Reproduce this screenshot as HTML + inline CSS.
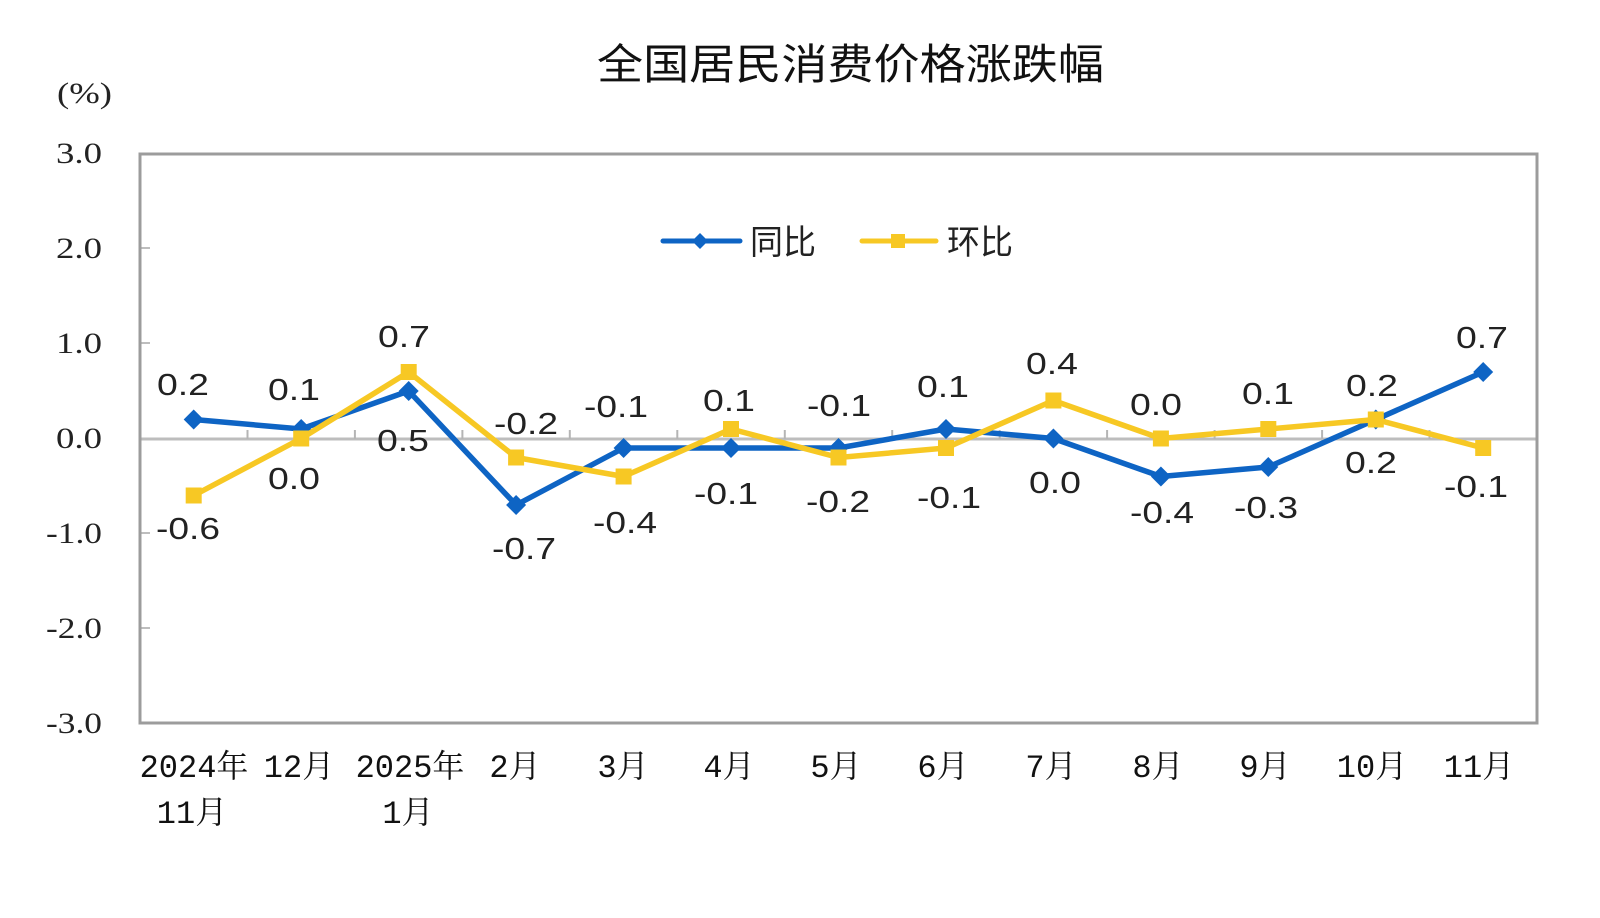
<!DOCTYPE html>
<html>
<head>
<meta charset="utf-8">
<style>
html,body{margin:0;padding:0;background:#fff;}
svg{display:block;}
</style>
</head>
<body>
<svg width="1600" height="918" viewBox="0 0 1600 918" xmlns="http://www.w3.org/2000/svg">
<rect width="1600" height="918" fill="#fff"/>

<!-- Title -->
<text x="597" y="79" font-family="'Noto Sans CJK SC','WenQuanYi Zen Hei',sans-serif" font-size="42" fill="#111" textLength="507" lengthAdjust="spacingAndGlyphs">全国居民消费价格涨跌幅</text>

<!-- (%) -->
<text x="57" y="103" font-family="'Liberation Serif',serif" font-size="30" fill="#222" textLength="55" lengthAdjust="spacingAndGlyphs">(%)</text>

<!-- Y tick labels -->
<g font-family="'Liberation Serif',serif" font-size="30" fill="#222" text-anchor="end">
<text x="102" y="163" textLength="46" lengthAdjust="spacingAndGlyphs">3.0</text>
<text x="102" y="258" textLength="46" lengthAdjust="spacingAndGlyphs">2.0</text>
<text x="102" y="353" textLength="46" lengthAdjust="spacingAndGlyphs">1.0</text>
<text x="102" y="448" textLength="46" lengthAdjust="spacingAndGlyphs">0.0</text>
<text x="102" y="543" textLength="56" lengthAdjust="spacingAndGlyphs">-1.0</text>
<text x="102" y="638" textLength="56" lengthAdjust="spacingAndGlyphs">-2.0</text>
<text x="102" y="733" textLength="56" lengthAdjust="spacingAndGlyphs">-3.0</text>
</g>

<!-- Y axis small ticks -->
<g stroke="#bdbdbd" stroke-width="2">
<line x1="140" y1="248" x2="150" y2="248"/>
<line x1="140" y1="343" x2="150" y2="343"/>
<line x1="140" y1="533" x2="150" y2="533"/>
<line x1="140" y1="628" x2="150" y2="628"/>
</g>

<!-- Zero line -->
<line x1="140" y1="439" x2="1537" y2="439" stroke="#bdbdbd" stroke-width="3"/>
<g stroke="#b5b5b5" stroke-width="2">
<line x1="247.5" y1="439" x2="247.5" y2="430"/>
<line x1="354.9" y1="439" x2="354.9" y2="430"/>
<line x1="462.4" y1="439" x2="462.4" y2="430"/>
<line x1="569.8" y1="439" x2="569.8" y2="430"/>
<line x1="677.3" y1="439" x2="677.3" y2="430"/>
<line x1="784.8" y1="439" x2="784.8" y2="430"/>
<line x1="892.2" y1="439" x2="892.2" y2="430"/>
<line x1="999.7" y1="439" x2="999.7" y2="430"/>
<line x1="1107.1" y1="439" x2="1107.1" y2="430"/>
<line x1="1214.6" y1="439" x2="1214.6" y2="430"/>
<line x1="1322.1" y1="439" x2="1322.1" y2="430"/>
<line x1="1429.5" y1="439" x2="1429.5" y2="430"/>
</g>

<!-- Plot border -->
<rect x="140" y="154" width="1397" height="569" fill="none" stroke="#9c9c9c" stroke-width="3"/>

<!-- Legend -->
<line x1="663" y1="241" x2="740" y2="241" stroke="#0e64c4" stroke-width="5" stroke-linecap="round"/>
<path d="M700 233 L708 241 L700 249 L692 241 Z" fill="#0e64c4"/>
<text x="750" y="254" font-family="'Noto Sans CJK SC','WenQuanYi Zen Hei',sans-serif" font-size="34" fill="#222" textLength="66" lengthAdjust="spacingAndGlyphs">同比</text>
<line x1="862" y1="241" x2="936" y2="241" stroke="#f7c824" stroke-width="5" stroke-linecap="round"/>
<rect x="891" y="234" width="14" height="14" fill="#f7c824"/>
<text x="947" y="254" font-family="'Noto Sans CJK SC','WenQuanYi Zen Hei',sans-serif" font-size="34" fill="#222" textLength="66" lengthAdjust="spacingAndGlyphs">环比</text>

<!-- Blue series 同比 -->
<polyline fill="none" stroke="#0e64c4" stroke-width="5.5" stroke-linejoin="round" points="193.7,419.5 301.2,429 408.7,391 516.1,505 623.6,448 731,448 838.5,448 946,429 1053.4,438.5 1160.9,476.5 1268.3,467 1375.8,419.5 1483.2,372"/>
<g fill="#0e64c4">
<path d="M193.7 409.5 l10 10 l-10 10 l-10 -10 Z"/>
<path d="M301.2 419 l10 10 l-10 10 l-10 -10 Z"/>
<path d="M408.7 381 l10 10 l-10 10 l-10 -10 Z"/>
<path d="M516.1 495 l10 10 l-10 10 l-10 -10 Z"/>
<path d="M623.6 438 l10 10 l-10 10 l-10 -10 Z"/>
<path d="M731 438 l10 10 l-10 10 l-10 -10 Z"/>
<path d="M838.5 438 l10 10 l-10 10 l-10 -10 Z"/>
<path d="M946 419 l10 10 l-10 10 l-10 -10 Z"/>
<path d="M1053.4 428.5 l10 10 l-10 10 l-10 -10 Z"/>
<path d="M1160.9 466.5 l10 10 l-10 10 l-10 -10 Z"/>
<path d="M1268.3 457 l10 10 l-10 10 l-10 -10 Z"/>
<path d="M1375.8 409.5 l10 10 l-10 10 l-10 -10 Z"/>
<path d="M1483.2 362 l10 10 l-10 10 l-10 -10 Z"/>
</g>

<!-- Yellow series 环比 -->
<polyline fill="none" stroke="#f7c824" stroke-width="5.5" stroke-linejoin="round" points="193.7,495.5 301.2,438.5 408.7,372 516.1,457.5 623.6,476.5 731,429 838.5,457.5 946,448 1053.4,400.5 1160.9,438.5 1268.3,429 1375.8,419.5 1483.2,448"/>
<g fill="#f7c824">
<rect x="185.7" y="487.5" width="16" height="16"/>
<rect x="293.2" y="430.5" width="16" height="16"/>
<rect x="400.7" y="364" width="16" height="16"/>
<rect x="508.1" y="449.5" width="16" height="16"/>
<rect x="615.6" y="468.5" width="16" height="16"/>
<rect x="723" y="421" width="16" height="16"/>
<rect x="830.5" y="449.5" width="16" height="16"/>
<rect x="938" y="440" width="16" height="16"/>
<rect x="1045.4" y="392.5" width="16" height="16"/>
<rect x="1152.9" y="430.5" width="16" height="16"/>
<rect x="1260.3" y="421" width="16" height="16"/>
<rect x="1367.8" y="411.5" width="16" height="16"/>
<rect x="1475.2" y="440" width="16" height="16"/>
</g>

<!-- Data labels -->
<g font-family="'Liberation Sans',sans-serif" font-size="31" fill="#222" text-anchor="middle">
<text x="183" y="395" textLength="52" lengthAdjust="spacingAndGlyphs">0.2</text>
<text x="188" y="539" textLength="64" lengthAdjust="spacingAndGlyphs">-0.6</text>
<text x="294" y="400" textLength="52" lengthAdjust="spacingAndGlyphs">0.1</text>
<text x="294" y="489" textLength="52" lengthAdjust="spacingAndGlyphs">0.0</text>
<text x="404" y="347" textLength="52" lengthAdjust="spacingAndGlyphs">0.7</text>
<text x="403" y="451" textLength="52" lengthAdjust="spacingAndGlyphs">0.5</text>
<text x="526" y="434" textLength="64" lengthAdjust="spacingAndGlyphs">-0.2</text>
<text x="524" y="559" textLength="64" lengthAdjust="spacingAndGlyphs">-0.7</text>
<text x="616" y="417" textLength="64" lengthAdjust="spacingAndGlyphs">-0.1</text>
<text x="625" y="533" textLength="64" lengthAdjust="spacingAndGlyphs">-0.4</text>
<text x="729" y="411" textLength="52" lengthAdjust="spacingAndGlyphs">0.1</text>
<text x="726" y="504" textLength="64" lengthAdjust="spacingAndGlyphs">-0.1</text>
<text x="839" y="416" textLength="64" lengthAdjust="spacingAndGlyphs">-0.1</text>
<text x="838" y="512" textLength="64" lengthAdjust="spacingAndGlyphs">-0.2</text>
<text x="943" y="397" textLength="52" lengthAdjust="spacingAndGlyphs">0.1</text>
<text x="949" y="508" textLength="64" lengthAdjust="spacingAndGlyphs">-0.1</text>
<text x="1052" y="374" textLength="52" lengthAdjust="spacingAndGlyphs">0.4</text>
<text x="1055" y="493" textLength="52" lengthAdjust="spacingAndGlyphs">0.0</text>
<text x="1156" y="415" textLength="52" lengthAdjust="spacingAndGlyphs">0.0</text>
<text x="1162" y="523" textLength="64" lengthAdjust="spacingAndGlyphs">-0.4</text>
<text x="1268" y="404" textLength="52" lengthAdjust="spacingAndGlyphs">0.1</text>
<text x="1266" y="518" textLength="64" lengthAdjust="spacingAndGlyphs">-0.3</text>
<text x="1372" y="396" textLength="52" lengthAdjust="spacingAndGlyphs">0.2</text>
<text x="1371" y="473" textLength="52" lengthAdjust="spacingAndGlyphs">0.2</text>
<text x="1482" y="348" textLength="52" lengthAdjust="spacingAndGlyphs">0.7</text>
<text x="1476" y="497" textLength="64" lengthAdjust="spacingAndGlyphs">-0.1</text>
</g>

<!-- X axis labels -->
<g font-family="'Liberation Mono','Noto Serif CJK SC',monospace" font-size="32" fill="#111" text-anchor="middle">
<text x="194" y="777">2024年</text>
<text x="192" y="823">11月</text>
<text x="299" y="777">12月</text>
<text x="410" y="777">2025年</text>
<text x="408" y="823">1月</text>
<text x="515" y="777">2月</text>
<text x="623" y="777">3月</text>
<text x="729" y="777">4月</text>
<text x="836" y="777">5月</text>
<text x="943" y="777">6月</text>
<text x="1051" y="777">7月</text>
<text x="1158" y="777">8月</text>
<text x="1265" y="777">9月</text>
<text x="1372" y="777">10月</text>
<text x="1479" y="777">11月</text>
</g>
</svg>
</body>
</html>
